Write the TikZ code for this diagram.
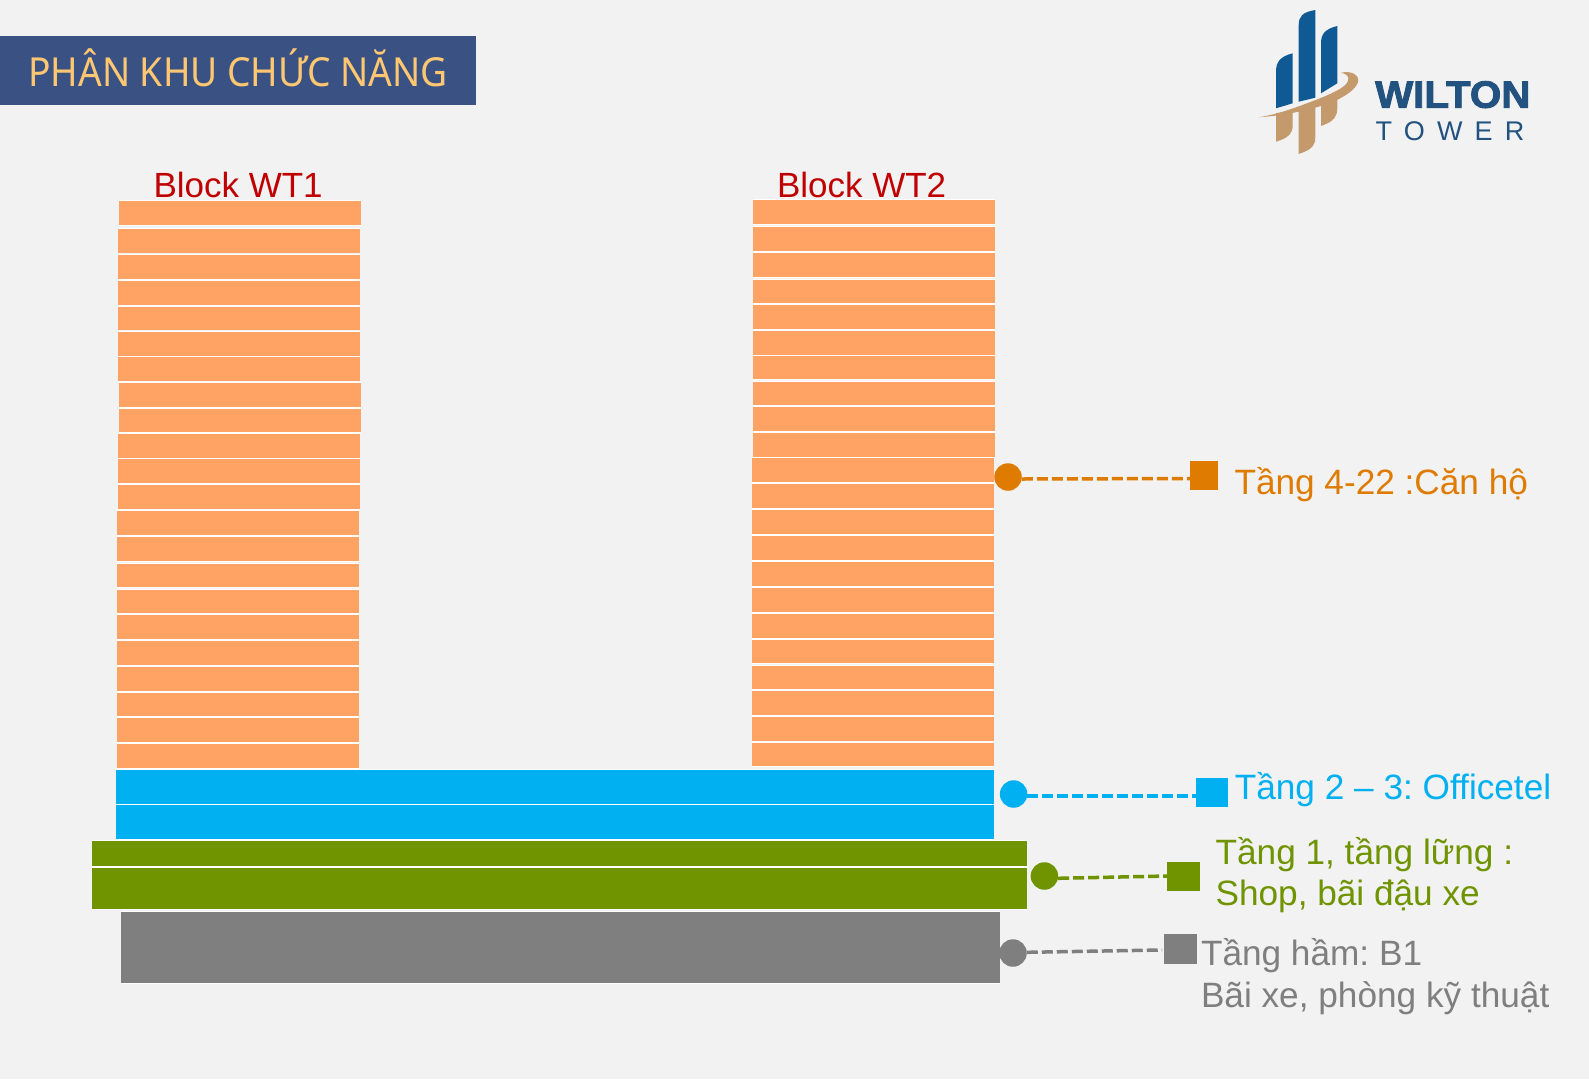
\documentclass[tikz,border=0pt]{standalone}
\usepackage{fontspec}
\setmainfont{Liberation Sans}
\newfontfamily\titlefont[FakeStretch=0.93]{Noto Sans}
\newfontfamily\wfont[FakeBold=2.4,FakeStretch=1.06]{Liberation Sans Bold}
\newfontfamily\tfont[LetterSpace=45]{Liberation Sans}
\definecolor{bgc}{HTML}{F2F2F2}
\definecolor{titlebg}{HTML}{3A5283}
\definecolor{titlefg}{HTML}{FFC772}
\definecolor{floorc}{HTML}{FFA365}
\definecolor{apt}{HTML}{DE7B00}
\definecolor{off}{HTML}{00B0F0}
\definecolor{shop}{HTML}{6F9400}
\definecolor{base}{HTML}{7F7F7F}
\definecolor{red1}{HTML}{C00000}
\definecolor{logob}{HTML}{0F5A94}
\definecolor{logot}{HTML}{C49A6C}
\definecolor{logoc}{HTML}{22527F}
\tikzset{
  x=1pt,y=-1pt,
  txt/.style={inner sep=0pt,outer sep=0pt,anchor=base west,font=\frenchspacing\fontsize{35.2}{41.7}\selectfont,align=left},
  dot/.style={circle,fill=#1,inner sep=0pt,outer sep=0pt,minimum size=27.5pt},
  sq/.style={rectangle,fill=#1,inner sep=0pt,outer sep=0pt},
  link/.style={draw=#1,line width=3.5pt,dash pattern=on 11pt off 4pt},
}
\newcommand{\slab}[5]{\path[fill=white] (#1,#3-0.7) rectangle (#2,#4+0.7);\path[fill=#5] (#1,#3) rectangle (#2,#4);}
\begin{document}
\begin{tikzpicture}
\useasboundingbox (0,0) rectangle (1589,1079);
\fill[bgc] (0,0) rectangle (1589,1079);
% title
\node[sq=titlebg,anchor=north west,minimum width=476pt,minimum height=69pt] (title) at (0,36) {};
\node[inner sep=0pt,anchor=base west,text=titlefg,font=\titlefont\fontsize{40}{48}\selectfont] (titlet) at (28,86) {PHÂN KHU CHỨC NĂNG};
% logo
\fill[logob] (1276,108.3) -- (1276,71.7) .. controls (1276,62) and (1280,56.5) .. (1292.7,53.3) -- (1292.7,103.3) -- cycle;
\fill[logob] (1298.7,101.7) -- (1298.7,25) .. controls (1298.7,16) and (1303,12) .. (1315.3,10) -- (1315.3,97.7) -- cycle;
\fill[logob] (1321,93.3) -- (1321,43.3) .. controls (1321,34) and (1325,29) .. (1337.3,26) -- (1337.3,83.3) -- cycle;
\fill[logot] (1276,113) -- (1276,141.7) -- (1281,140) .. controls (1288,137) and (1292.7,134) .. (1292.7,125) -- (1292.7,112) -- cycle;
\fill[logot] (1298.7,110) -- (1298.7,154) -- (1304,152) .. controls (1311,149) and (1315.3,146) .. (1315.3,137) -- (1315.3,106) -- cycle;
\fill[logot] (1321,104) -- (1321,126) -- (1326,124) .. controls (1333,121) and (1337.3,117) .. (1337.3,108) -- (1337.3,98) -- cycle;
\fill[logot] (1258.3,117.3) .. controls (1280,114) and (1300,106) .. (1320,98.3) .. controls (1335,92) and (1349,86) .. (1348.3,78.3) .. controls (1348,75.5) and (1345,73.5) .. (1341,72.7) .. controls (1352,70.5) and (1358.3,75) .. (1358.3,80) .. controls (1358.3,88) and (1345,97) .. (1330,103) .. controls (1310,110) and (1285,115.5) .. (1258.3,117.3) -- cycle;
\node[inner sep=0pt,anchor=base west,text=logoc,font=\wfont\fontsize{38}{38}\selectfont] (wilton) at (1375,107.7) {WILTON};
\node[inner sep=0pt,anchor=base west,text=logoc,font=\tfont\fontsize{27}{27}\selectfont] (tower) at (1375.5,140) {TOWER};
% block labels
\node[txt,text=red1,font=\fontsize{35}{40}\selectfont] (wt1) at (153.5,197.5) {Block WT1};
\node[txt,text=red1,font=\fontsize{35}{40}\selectfont] (wt2) at (777,197) {Block WT2};
% WT1 floors
\foreach \xa/\ya/\yb in {119/201/225,118/229/252.7,118/255/279,118/281/305,118/307/329.7,118/332/355.7,118/357/381,119/383/407,119/409/432,118/434/457.7,118/459/483,118/485/509,117/511/535,117/537/561,117/564/587,117/590/613,117/615/639,117/641/665,117/667/691,117/693/716,117/718/742,117/744/768}{
  \pgfmathsetmacro\xb{\xa+242}
  \slab{\xa}{\xb}{\ya}{\yb}{floorc}
}
% WT2 floors
\foreach \xa/\ya/\yb in {753/200/224,753/227/251,753/253/277,753/280/303,753/305/329,753/331/355,753/356/379,753/382/405,753/407/431,753/433/457,752/458/482,752/484/508,752/510/534,752/536/560,752/562/586,752/588/612,752/614/638,752/640/663,752/666/689,752/691/715,752/717/741,752/743/766}{
  \pgfmathsetmacro\xb{\xa+242}
  \slab{\xa}{\xb}{\ya}{\yb}{floorc}
}
% podium
\slab{116}{994}{770}{804}{off}
\slab{116}{994}{805}{839}{off}
\slab{92}{1027}{841}{866}{shop}
\slab{92}{1027}{868}{909}{shop}
\slab{121}{1000}{912}{983}{base}
% legend
\node[dot=apt] (c1) at (1008,477) {};
\node[sq=apt,minimum width=28pt,minimum height=29pt] (s1) at (1204,475.5) {};
\draw[link=apt] ([yshift=-2pt]c1.east) -- ([yshift=-3pt]s1.west);
\node[txt,text=apt] (t1) at (1234.5,494) {Tầng 4-22 :Căn hộ};
\node[dot=off] (c2) at (1013.6,794) {};
\node[sq=off,minimum width=32pt,minimum height=29pt] (s2) at (1212,792.5) {};
\draw[link=off] ([yshift=-2pt]c2.east) -- ([yshift=-3.5pt]s2.west);
\node[txt,text=off] (t2) at (1234.8,799.3) {Tầng 2 – 3: Officetel};
\node[dot=shop] (c3) at (1044.4,876) {};
\node[sq=shop,minimum width=33pt,minimum height=29pt] (s3) at (1183.5,876.5) {};
\draw[link=shop] ([yshift=-2.3pt]c3.east) -- ([yshift=0.5pt]s3.west);
\node[txt,text=shop,anchor=north west] (t3) at (1215.6,837) {Tầng 1, tầng lững :\\Shop, bãi đậu xe};
\node[dot=base] (c4) at (1013,953) {};
\node[sq=base,minimum width=33pt,minimum height=30pt] (s4) at (1180.5,949) {};
\draw[link=base] ([yshift=0.7pt]c4.east) -- ([xshift=-2pt,yshift=-1pt]s4.west);
\node[txt,text=base,anchor=north west] (t4) at (1201,938.5) {Tầng hầm: B1\\Bãi xe, phòng kỹ thuật};
\end{tikzpicture}
\end{document}
